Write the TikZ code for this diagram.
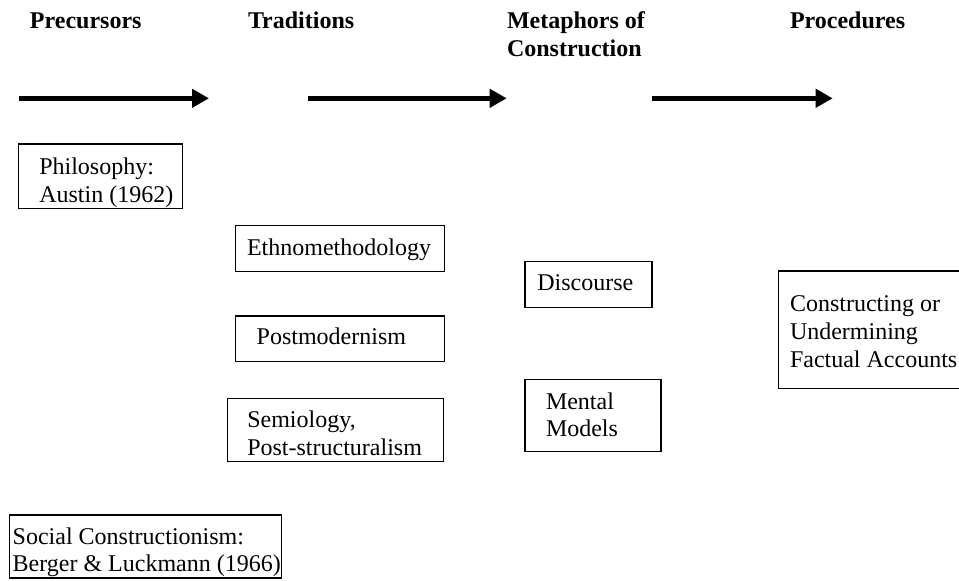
\documentclass[tikz,border=0pt]{standalone}
\usepackage{fontspec}
\setmainfont{Liberation Serif}
\usetikzlibrary{arrows.meta}
\begin{document}
\begin{tikzpicture}[x=0.5pt,y=-0.5pt,
  txt/.style={font=\fontsize{12pt}{13.8pt}\selectfont, inner sep=0pt, outer sep=0pt,
              anchor=base west, align=left},
  head/.style={txt, font=\fontsize{12pt}{13.8pt}\selectfont\bfseries},
  box/.style={draw=black, line width=0.6pt, inner sep=0pt, outer sep=0pt,
              anchor=north west, rectangle},
  flow/.style={draw=black, line width=2.8pt,
               -{Triangle[length=8.5pt,width=9pt]}}]
\useasboundingbox (0,0) rectangle (959,580);
\clip (0,0) rectangle (959,580);

% column headings (multi-line texts are placed by the baseline of their last line)
\node[head] (hPre)  at (30,28)  {Precursors};
\node[head] (hTra)  at (248,28) {Traditions};
\node[head] (hMet)  at (507,56) {Metaphors of\\Construction};
\node[head] (hProc) at (790,28) {Procedures};

% flow arrows
\coordinate (a1s) at (19,98.3);    \coordinate (a1e) at (209,98.3);
\coordinate (a2s) at (308.3,98.3); \coordinate (a2e) at (506.7,98.3);
\coordinate (a3s) at (651.7,98.3); \coordinate (a3e) at (832.7,98.3);
\draw[flow] (a1s) -- (a1e);
\draw[flow] (a2s) -- (a2e);
\draw[flow] (a3s) -- (a3e);

% boxes
\node[box, minimum width=82pt,   minimum height=32.2pt] (phil) at (18.3,144)  {};
\node[box, minimum width=104.2pt,minimum height=22.7pt] (eth)  at (235.7,225.7) {};
\node[box, minimum width=104.2pt,minimum height=22.9pt] (post) at (235.7,316) {};
\node[box, minimum width=108pt,  minimum height=31.4pt] (semi) at (227.3,398.3) {};
\node[box, minimum width=63.5pt, minimum height=23pt]   (disc) at (525,261.7) {};
\node[box, minimum width=68pt,   minimum height=36.2pt] (ment) at (525,379.3) {};
\node[box, minimum width=100pt,  minimum height=58.7pt] (cons) at (778.3,271) {};
\node[box, minimum width=136.2pt,minimum height=31.5pt] (soc)  at (9.3,515) {};

% box texts
\node[txt] (philT) at (39.3,202)   {Philosophy:\\Austin (1962)};
\node[txt] (ethT)  at (247,255)    {Ethnomethodology};
\node[txt] (postT) at (256.7,344.3){Postmodernism};
\node[txt] (semiT) at (247.3,455)  {Semiology,\\Post-structuralism};
\node[txt] (discT) at (537.3,290)  {Discourse};
\node[txt] (mentT) at (546,436.7)  {Mental\\Models};
\node[txt] (consT) at (790,367)    {Constructing or\\Undermining\\Factual Accounts};
\node[txt] (socT)  at (12.7,571.7) {Social Constructionism:\\Berger \& Luckmann (1966)};
\end{tikzpicture}
\end{document}
